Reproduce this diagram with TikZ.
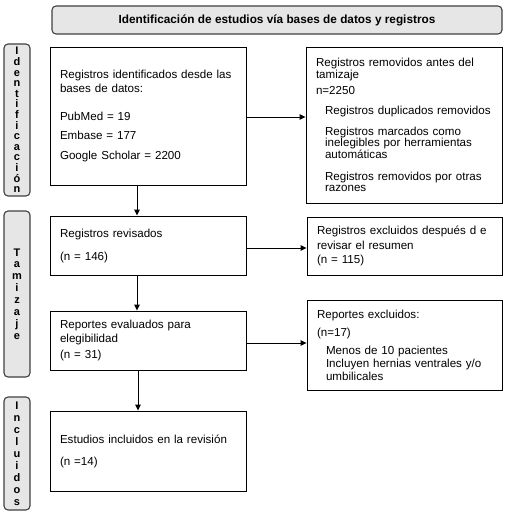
\documentclass[tikz,border=0pt]{standalone}
\usepackage{fontspec}
\setmainfont{Liberation Sans}
\usetikzlibrary{arrows.meta}
\definecolor{hdrfill}{HTML}{E6E6E6}
\definecolor{hdrdraw}{HTML}{404040}
\newcommand{\indline}[1]{\hbox{\kern9pt #1}}
\begin{document}
\begin{tikzpicture}[x=1pt,y=-1pt,
  hdr/.style={draw=hdrdraw,fill=hdrfill,line width=1.1pt,rounded corners=4pt,inner sep=0pt},
  side/.style={hdr,align=center},
  box/.style={draw=black,line width=0.9pt,inner sep=0pt,align=left,
     font=\fontsize{11.6}{14}\selectfont},
  arr/.style={line width=0.9pt,-{Triangle[length=6pt,width=5.5pt]}}]
\useasboundingbox (0,0) rectangle (506,513);
% title
\node[hdr,minimum width=450pt,minimum height=28pt,font=\fontsize{11.8}{14}\selectfont\bfseries]
  (title) at (277,20) {Identificación de estudios vía bases de datos y registros};
% side labels
\node[side,minimum width=26pt,minimum height=152pt,font=\fontsize{11}{10.6}\selectfont\bfseries] (sid) at (17,120)
  {I\\d\\e\\n\\t\\i\\f\\i\\c\\a\\c\\i\\ó\\n};
\node[side,minimum width=26pt,minimum height=166pt,font=\fontsize{11}{11.9}\selectfont\bfseries] (stam) at (17,294)
  {T\\a\\m\\i\\z\\a\\j\\e};
\node[side,minimum width=26pt,minimum height=113pt,font=\fontsize{11}{12}\selectfont\bfseries] (sinc) at (17,453.5)
  {I\\n\\c\\l\\u\\i\\d\\o\\s};
% left boxes
\node[box,minimum width=196pt,minimum height=138pt,text width=176pt] (b1) at (148,116)
  {Registros identificados desde las\\bases de datos:\\[14pt]
   PubMed = 19\\[5pt]Embase = 177\\[6pt]Google Scholar = 2200};
\node[box,minimum width=196pt,minimum height=59pt,text width=176pt] (b2) at (148,245.5)
  {Registros revisados\\[9pt](n = 146)};
\node[box,minimum width=196pt,minimum height=59pt,text width=176pt] (b3) at (148,340.5)
  {Reportes evaluados para\\elegibilidad\\[2pt](n = 31)};
\node[box,minimum width=196pt,minimum height=80pt,text width=176pt] (b4) at (148,451)
  {Estudios incluidos en la revisión\\[8pt](n =14)};
% right boxes
\node[box,minimum width=196pt,minimum height=156pt,text width=176pt,font=\fontsize{11.6}{11.5}\selectfont] (r1) at (404,125)
  {Registros removidos antes del\\tamizaje\\[5pt]
   n=2250\par\vspace{8pt}
   \indline{Registros duplicados removidos}\vspace{9.5pt}
   \indline{Registros marcados como}
   \indline{\makebox[157pt][s]{inelegibles por herramientas}}
   \indline{automáticas}\vspace{10.5pt}
   \indline{Registros removidos por otras}
   \indline{razones}\vspace{3pt}};
\node[box,minimum width=195pt,minimum height=58pt,text width=175pt,font=\fontsize{11.6}{14.5}\selectfont] (r2) at (404.5,246)
  {\makebox[175pt][s]{Registros excluidos después d e}\\revisar el resumen\\(n = 115)};
\node[box,minimum width=195pt,minimum height=90pt,text width=175pt,font=\fontsize{11.6}{13}\selectfont] (r3) at (404.5,345)
  {Reportes excluidos:\\[5pt](n=17)\par\vspace{5pt}
   \indline{Menos de 10 pacientes}
   \indline{Incluyen hernias ventrales y/o}
   \indline{umbilicales}};
% arrows
\draw[arr] ([xshift=-11pt]b1.south) -- ([xshift=-11pt]b2.north);
\draw[arr] ([xshift=-11pt]b2.south) -- ([xshift=-11pt]b3.north);
\draw[arr] ([xshift=-10pt]b3.south) -- ([xshift=-10pt]b4.north);
\draw[arr] ([yshift=-1pt]b1.east) -- ([yshift=-1pt]b1.east -| r1.west);
\draw[arr] ([yshift=-2.5pt]b2.east) -- ([yshift=-2.5pt]b2.east -| r2.west);
\draw[arr] ([yshift=-2.5pt]b3.east) -- ([yshift=-2.5pt]b3.east -| r3.west);
\end{tikzpicture}
\end{document}
